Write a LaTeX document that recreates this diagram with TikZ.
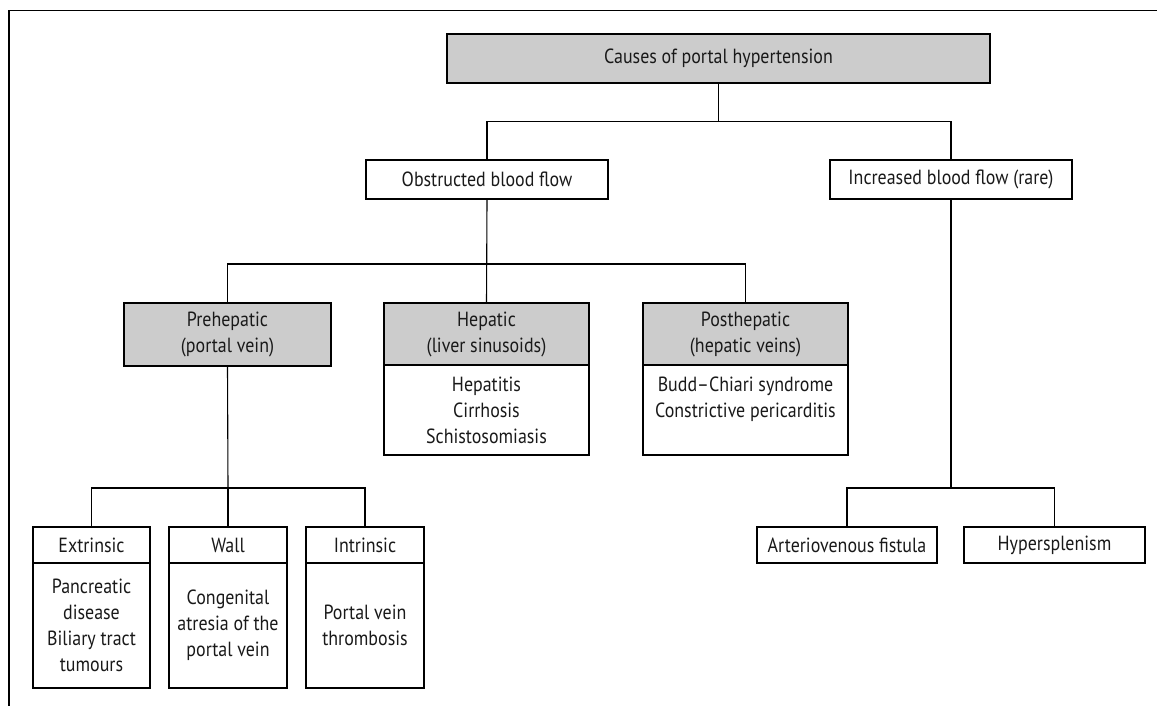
\documentclass[tikz,border=0pt]{standalone}
\usepackage{fontspec}
\setmainfont{PT Sans}[FakeStretch=0.875]
\begin{document}
\begin{tikzpicture}[x=1pt,y=-1pt,
  every node/.style={font=\fontsize{20.5}{26}\selectfont, text=black!90, inner sep=0pt, align=center},
  box/.style={draw=black, line width=1.1pt, rectangle, fill=white},
  gbox/.style={box, fill=gray!40},
  conn/.style={draw=black, line width=1.1pt}]
\useasboundingbox (0,0) rectangle (1157,706);
% frame
\draw[line width=1.2pt] (9,706) -- (9,10.5) -- (1157,10.5);
% nodes
\node[gbox, minimum width=543pt, minimum height=49pt] (top) at (718.5,58.5) {Causes of portal hypertension};
\node[box, minimum width=242pt, minimum height=39pt] (obs) at (487,179.5) {Obstructed blood flow};
\node[box, minimum width=242pt, minimum height=39pt] (inc) at (951,179.5) {Increased blood flow (rare)};
\node[gbox, minimum width=207pt, minimum height=63pt] (pre) at (227.5,334.5) {Prehepatic\\(portal vein)};
\node[box, minimum width=205pt, minimum height=90pt] (hepb) at (486.5,410) {Hepatitis\\Cirrhosis\\Schistosomiasis};
\node[gbox, minimum width=205pt, minimum height=62pt] (heph) at (486.5,334) {Hepatic\\(liver sinusoids)};
\node[box, minimum width=205pt, minimum height=90pt] (postb) at (745.5,410) {Budd--Chiari syndrome\\Constrictive pericarditis\\\phantom{X}};
\node[gbox, minimum width=205pt, minimum height=62pt] (posth) at (745.5,334) {Posthepatic\\(hepatic veins)};
\node[box, minimum width=117pt, minimum height=125pt] (extb) at (91.5,625.5) {Pancreatic\\disease\\Biliary tract\\tumours};
\node[box, minimum width=117pt, minimum height=36pt] (ext) at (91.5,545) {Extrinsic};
\node[box, minimum width=118pt, minimum height=125pt] (wallb) at (228,625.5) {Congenital\\atresia of the\\portal vein};
\node[box, minimum width=118pt, minimum height=36pt] (wall) at (228,545) {Wall};
\node[box, minimum width=118pt, minimum height=125pt] (intrb) at (365,625.5) {Portal vein\\thrombosis};
\node[box, minimum width=118pt, minimum height=36pt] (intr) at (365,545) {Intrinsic};
\node[box, minimum width=180pt, minimum height=36pt] (av) at (847,545) {Arteriovenous fistula};
\node[box, minimum width=181pt, minimum height=36pt] (hyp) at (1054.5,545) {Hypersplenism};
% junctions
\coordinate (j1) at (718.5,121.7);
\coordinate (j2) at (486.7,264);
\coordinate (j3) at (228,488);
\coordinate (j4) at (951,488);
% connectors
\draw[conn] (top.south) -- (j1);
\draw[conn] (obs.north) |- (j1) -| (inc.north);
\draw[conn] (obs.south) -- (j2);
\draw[conn] (pre.north) |- (j2) -| (posth.north);
\draw[conn] (j2) -- (heph.north);
\draw[conn] (pre.south) -- (j3);
\draw[conn] (ext.north) |- (j3) -| (intr.north);
\draw[conn] (j3) -- (wall.north);
\draw[conn] (inc.south) -- (j4);
\draw[conn] (av.north) |- (j4) -| (hyp.north);
\end{tikzpicture}
\end{document}
